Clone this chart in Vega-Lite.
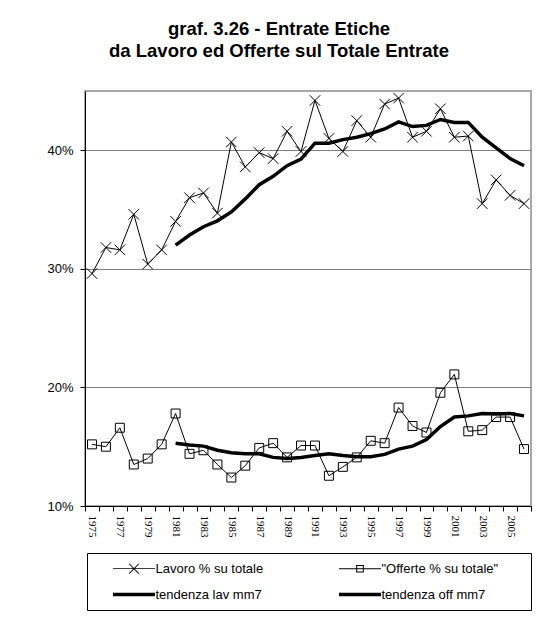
{
  "$schema": "https://vega.github.io/schema/vega-lite/v6.json",
  "width": 446,
  "height": 415,
  "autosize": {"type": "none"},
  "padding": {"left": 85, "top": 91, "right": 21, "bottom": 111},
  "background": "white",
  "title": {
    "text": ["graf. 3.26 - Entrate Etiche", "da Lavoro ed Offerte sul Totale Entrate"],
    "anchor": "middle",
    "dx": -29,
    "offset": 30,
    "fontSize": 18.5,
    "font": "Liberation Sans",
    "fontWeight": "bold",
    "color": "black",
    "lineHeight": 22
  },
  "data": {
    "values": [
      {"year": 1975, "lav": 29.6, "off": 15.2, "tlav": null, "toff": null},
      {"year": 1976, "lav": 31.8, "off": 15.0, "tlav": null, "toff": null},
      {"year": 1977, "lav": 31.6, "off": 16.6, "tlav": null, "toff": null},
      {"year": 1978, "lav": 34.6, "off": 13.5, "tlav": null, "toff": null},
      {"year": 1979, "lav": 30.4, "off": 14.0, "tlav": null, "toff": null},
      {"year": 1980, "lav": 31.6, "off": 15.2, "tlav": null, "toff": null},
      {"year": 1981, "lav": 34.0, "off": 17.8, "tlav": 32.0, "toff": 15.3},
      {"year": 1982, "lav": 36.0, "off": 14.4, "tlav": 32.85, "toff": 15.15},
      {"year": 1983, "lav": 36.4, "off": 14.7, "tlav": 33.55, "toff": 15.05},
      {"year": 1984, "lav": 34.7, "off": 13.5, "tlav": 34.05, "toff": 14.7},
      {"year": 1985, "lav": 40.7, "off": 12.4, "tlav": 34.8, "toff": 14.5},
      {"year": 1986, "lav": 38.6, "off": 13.4, "tlav": 35.9, "toff": 14.4},
      {"year": 1987, "lav": 39.8, "off": 14.9, "tlav": 37.1, "toff": 14.4},
      {"year": 1988, "lav": 39.3, "off": 15.3, "tlav": 37.8, "toff": 14.1},
      {"year": 1989, "lav": 41.6, "off": 14.1, "tlav": 38.7, "toff": 14.0},
      {"year": 1990, "lav": 39.9, "off": 15.1, "tlav": 39.25, "toff": 14.1},
      {"year": 1991, "lav": 44.2, "off": 15.1, "tlav": 40.6, "toff": 14.25},
      {"year": 1992, "lav": 41.0, "off": 12.55, "tlav": 40.6, "toff": 14.4},
      {"year": 1993, "lav": 39.9, "off": 13.3, "tlav": 40.9, "toff": 14.25},
      {"year": 1994, "lav": 42.5, "off": 14.1, "tlav": 41.1, "toff": 14.15},
      {"year": 1995, "lav": 41.1, "off": 15.5, "tlav": 41.4, "toff": 14.15},
      {"year": 1996, "lav": 43.9, "off": 15.3, "tlav": 41.8, "toff": 14.35},
      {"year": 1997, "lav": 44.4, "off": 18.3, "tlav": 42.4, "toff": 14.8},
      {"year": 1998, "lav": 41.1, "off": 16.75, "tlav": 42.0, "toff": 15.05},
      {"year": 1999, "lav": 41.6, "off": 16.2, "tlav": 42.1, "toff": 15.6},
      {"year": 2000, "lav": 43.5, "off": 19.55, "tlav": 42.6, "toff": 16.7},
      {"year": 2001, "lav": 41.1, "off": 21.1, "tlav": 42.35, "toff": 17.5},
      {"year": 2002, "lav": 41.2, "off": 16.3, "tlav": 42.35, "toff": 17.6},
      {"year": 2003, "lav": 35.5, "off": 16.4, "tlav": 41.1, "toff": 17.8},
      {"year": 2004, "lav": 37.5, "off": 17.5, "tlav": 40.2, "toff": 17.75},
      {"year": 2005, "lav": 36.2, "off": 17.5, "tlav": 39.3, "toff": 17.8},
      {"year": 2006, "lav": 35.5, "off": 14.8, "tlav": 38.7, "toff": 17.6}
    ]
  },
  "encoding": {
    "x": {
      "field": "year",
      "type": "ordinal",
      "bandPosition": 0.5,
      "scale": {"type": "band", "paddingInner": 0, "paddingOuter": 0},
      "axis": {
        "title": null,
        "tickBand": "extent",
        "labelExpr": "datum.value % 2 == 1 ? datum.label : ''",
        "labelAngle": 90,
        "labelAlign": "left",
        "labelBaseline": "middle",
        "labelPadding": 4,
        "labelFont": "Liberation Serif",
        "labelFontSize": 11,
        "labelColor": "black",
        "labelOverlap": false,
        "tickSize": 5,
        "tickColor": "black",
        "domainColor": "black",
        "grid": false
      }
    }
  },
  "layer": [
    {
      "mark": {"type": "line", "color": "black", "strokeWidth": 1},
      "encoding": {
        "y": {
          "field": "lav",
          "type": "quantitative",
          "scale": {"domain": [10, 45], "nice": false, "zero": false},
          "axis": {
            "title": null,
            "values": [10, 20, 30, 40],
            "labelExpr": "datum.value + '%'",
            "grid": true,
            "gridColor": "#808080",
            "gridWidth": 1,
            "domainColor": "black",
            "tickColor": "black",
            "tickSize": 5,
            "labelPadding": 7,
            "labelFont": "Liberation Sans",
            "labelFontSize": 13,
            "labelColor": "black"
          }
        }
      }
    },
    {
      "mark": {"type": "line", "color": "black", "strokeWidth": 1},
      "encoding": {"y": {"field": "off", "type": "quantitative", "title": null}}
    },
    {
      "mark": {"type": "point", "shape": "M-1,-1L1,1M-1,1L1,-1", "size": 110, "filled": false, "stroke": "black", "strokeWidth": 1, "opacity": 1},
      "encoding": {"y": {"field": "lav", "type": "quantitative", "title": null}}
    },
    {
      "mark": {"type": "point", "shape": "square", "size": 80, "filled": false, "stroke": "black", "strokeWidth": 1, "opacity": 1},
      "encoding": {"y": {"field": "off", "type": "quantitative", "title": null}}
    },
    {
      "mark": {"type": "line", "color": "black", "strokeWidth": 3.5},
      "encoding": {"y": {"field": "tlav", "type": "quantitative", "title": null}}
    },
    {
      "mark": {"type": "line", "color": "black", "strokeWidth": 3.5},
      "encoding": {"y": {"field": "toff", "type": "quantitative", "title": null}}
    },
    {
      "transform": [
        {"fold": ["lav", "off", "tlav", "toff"], "as": ["series", "v"]},
        {"filter": "datum.year < 0"}
      ],
      "mark": {"type": "point", "size": 196, "opacity": 1, "filled": true, "color": "black", "fill": "black"},
      "encoding": {
        "shape": {
          "field": "series",
          "type": "nominal",
          "scale": {
            "domain": ["lav", "off", "tlav", "toff"],
            "range": [
              "M-1,-0.07H5V0.07H-1ZM1.35,-0.75L2.75,0.65L2.65,0.75L1.25,-0.65ZM1.25,0.65L2.65,-0.75L2.75,-0.65L1.35,0.75Z",
              "M-1,-0.07H5V0.07H-1ZM1.45,-0.55H2.55V0.55H1.45ZM1.593,-0.407V0.407H2.407V-0.407ZM24.9,0",
              "M-1,-0.25H5V0.25H-1Z",
              "M-1,-0.25H5V0.25H-1ZM24.9,0"
            ]
          },
          "legend": {
            "orient": "none",
            "legendX": 2,
            "legendY": 462,
            "direction": "horizontal",
            "columns": 2,
            "title": "\u00a0",
            "titleOrient": "left",
            "titleFontSize": 1,
            "titlePadding": 17.5,
            "padding": 8,
            "strokeColor": "black",
            "fillColor": "white",
            "rowPadding": 11,
            "columnPadding": 73,
            "labelOffset": 28,
            "labelFont": "Liberation Sans",
            "labelFontSize": 13,
            "labelColor": "black",
            "labelLimit": 300,
            "symbolSize": 196,
            "symbolFillColor": "black",
            "symbolStrokeWidth": 1,
            "symbolOpacity": 1,
            "labelExpr": "datum.value == 'lav' ? 'Lavoro % su totale' : datum.value == 'off' ? '\"Offerte % su totale\"' : datum.value == 'tlav' ? 'tendenza lav mm7' : 'tendenza off mm7'"
          }
        }
      }
    }
  ],
  "config": {
    "view": {"stroke": "#a8a8a8", "strokeWidth": 2}
  }
}
